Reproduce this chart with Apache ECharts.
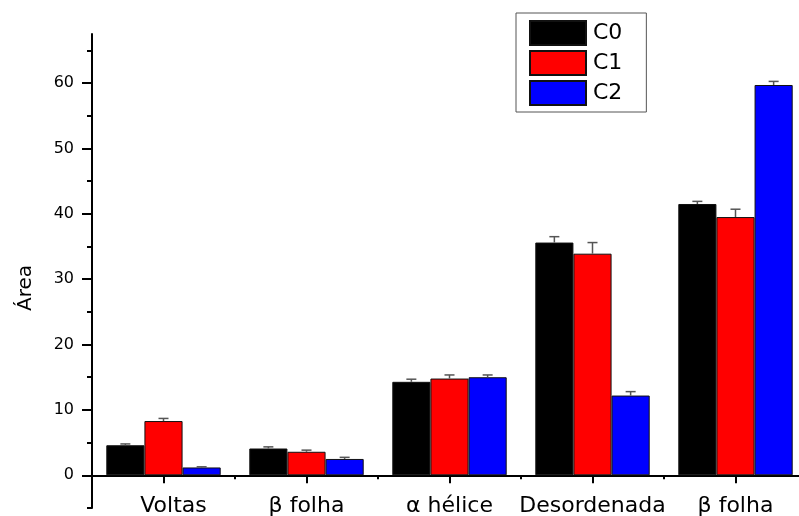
<!DOCTYPE html>
<html>
<head>
<meta charset="utf-8">
<script src="https://cdn.jsdelivr.net/npm/echarts@6/dist/echarts.min.js"></script>
<style>html,body{margin:0;padding:0;background:#fff}#c{width:799px;height:516px}</style>
</head>
<body>
<div id="c"></div>
<script>
var categories = ['Voltas', 'β folha', 'α hélice', 'Desordenada', 'β folha'];
var seriesNames = ['C0', 'C1', 'C2'];
var C0 = [4.6, 4.1, 14.3, 35.6, 41.5];
var C1 = [8.3, 3.6, 14.8, 33.9, 39.5];
var C2 = [1.2, 2.5, 15.0, 12.2, 59.7];
var C0err = [0.2, 0.25, 0.4, 0.9, 0.4];
var C1err = [0.4, 0.25, 0.55, 1.7, 1.2];
var C2err = [0.1, 0.25, 0.35, 0.6, 0.55];
var yLabelTicks = [0, 10, 20, 30, 40, 50, 60];
var yMinorTicks = [-5, 5, 15, 25, 35, 45, 55, 65];
var colors = ['#000000', '#ff0000', '#0000ff'];

var values = [C0, C1, C2];
var errs = [C0err, C1err, C2err];
var FONT = 'DejaVu Sans';

var chart = echarts.init(document.getElementById('c'));

var series = [];
values.forEach(function (vals, si) {
  series.push({
    name: seriesNames[si],
    type: 'bar',
    xAxisIndex: 0,
    yAxisIndex: 0,
    data: vals,
    barGap: '0%',
    barCategoryGap: '20%',
    itemStyle: { color: colors[si], borderColor: '#111', borderWidth: 1 },
    emphasis: { disabled: true },
    z: 2
  });
});
values.forEach(function (vals, si) {
  var d = vals.map(function (v, i) { return [i, v, v + errs[si][i]]; });
  series.push({
    type: 'custom',
    xAxisIndex: 0,
    yAxisIndex: 0,
    data: d,
    z: 3,
    silent: true,
    renderItem: function (params, api) {
      var cat = api.value(0);
      var base = api.coord([cat, api.value(1)]);
      var top = api.coord([cat, api.value(2)]);
      var bw = api.size([1, 0])[0] * 0.8 / 3;
      var x = base[0] + (si - 1) * bw;
      var hw = 5;
      var st = { stroke: '#555', lineWidth: 1.5 };
      return {
        type: 'group',
        children: [
          { type: 'line', shape: { x1: x, y1: base[1], x2: x, y2: top[1] }, style: st },
          { type: 'line', shape: { x1: x - hw, y1: top[1], x2: x + hw, y2: top[1] }, style: st }
        ]
      };
    }
  });
});

var option = {
  animation: false,
  backgroundColor: '#fff',
  textStyle: { fontFamily: FONT },
  grid: { left: 92, right: -8, top: 34, bottom: 8, containLabel: false, outerBoundsMode: 'none' },
  legend: {
    data: seriesNames,
    orient: 'vertical',
    left: 516,
    top: 13,
    icon: 'rect',
    itemWidth: 56,
    itemHeight: 24,
    itemGap: 4,
    padding: [7, 24, 6, 13],
    borderColor: '#555',
    borderWidth: 1,
    backgroundColor: '#fff',
    selectedMode: false,
    textStyle: { fontFamily: FONT, fontSize: 22, color: '#000', padding: [0, 0, 0, 2] }
  },
  xAxis: [{
    type: 'category',
    data: categories,
    position: 'bottom',
    axisLine: { show: true, onZero: true, lineStyle: { color: '#000', width: 2 } },
    axisTick: { show: true, alignWithLabel: true, length: 8, lineStyle: { color: '#000', width: 2 } },
    axisLabel: {
      show: true, margin: -13, fontFamily: FONT, fontSize: 22, color: '#000', interval: 0,
      formatter: function (v, i) { return i === 0 ? '{s|' + v + '}' : v; },
      rich: { s: { fontFamily: FONT, fontSize: 22, color: '#000', padding: [0, 0, 0, 20] } }
    },
    splitLine: { show: false }
  }, {
    type: 'category',
    data: categories,
    position: 'bottom',
    axisLine: { show: false, onZero: true },
    axisTick: { show: true, alignWithLabel: false, length: 4, lineStyle: { color: '#000', width: 2 } },
    axisLabel: { show: false },
    splitLine: { show: false }
  }],
  yAxis: [{
    type: 'value',
    min: -5,
    max: 67.5,
    position: 'left',
    axisLine: { show: true, onZero: false, lineStyle: { color: '#000', width: 2 } },
    axisTick: { show: true, customValues: yLabelTicks, length: 10, lineStyle: { color: '#000', width: 2 } },
    axisLabel: { show: true, customValues: yLabelTicks, margin: 18, fontFamily: FONT, fontSize: 16, color: '#000' },
    splitLine: { show: false }
  }, {
    type: 'value',
    min: -5,
    max: 67.5,
    position: 'left',
    axisLine: { show: false, onZero: false },
    axisTick: { show: true, customValues: yMinorTicks, length: 5, lineStyle: { color: '#000', width: 2 } },
    axisLabel: { show: false },
    splitLine: { show: false }
  }],
  graphic: [{
    type: 'text',
    x: 26,
    y: 288,
    rotation: Math.PI / 2,
    style: { text: 'Área', font: '20px "DejaVu Sans"', fill: '#000', textAlign: 'center', textVerticalAlign: 'middle' }
  }],
  series: series
};
chart.setOption(option);
</script>
</body>
</html>
